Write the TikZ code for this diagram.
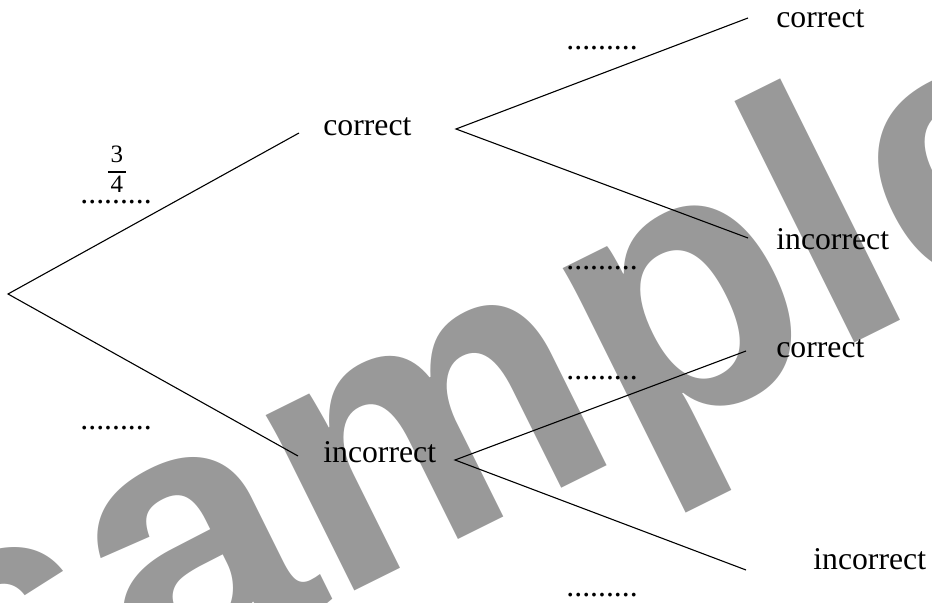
\documentclass[tikz,border=0pt]{standalone}
\usepackage{fontspec}
\setmainfont{Liberation Serif}
\newfontfamily\wmfont{Liberation Sans}
\definecolor{wmgray}{HTML}{999999}

\tikzset{
  lbl/.style={font=\fontsize{15.85}{19}\selectfont, inner sep=0pt, anchor=base west},
  fracbox/.style={font=\fontsize{12.5}{14}\selectfont, inner sep=0pt},
  wm/.style={font=\wmfont\bfseries\fontsize{186}{190}\selectfont, text=wmgray, rotate=26.4, inner sep=0pt, anchor=base west},
  branch/.style={line width=0.55pt}
}

\begin{document}
\begin{tikzpicture}[x=0.5pt,y=-0.5pt]
\useasboundingbox (0,0) rectangle (932,603);
\clip (0,0) rectangle (932,603);
% watermark
\node[wm] (stamp) at (-39,787) {sample};
% branch ends
\coordinate (root) at (8,294);
\coordinate (c) at (299,133);
\coordinate (i) at (298,456);
\coordinate (cfork) at (456,129);
\coordinate (ifork) at (455,460);
\coordinate (cc) at (748,18);
\coordinate (ci) at (748,238);
\coordinate (ic) at (746,351);
\coordinate (ii) at (746,570);
\draw[branch] (c) -- (root) -- (i);
\draw[branch] (cc) -- (cfork) -- (ci);
\draw[branch] (ic) -- (ifork) -- (ii);
% outcomes
\node[lbl] (cLbl) at (323,136) {correct};
\node[lbl] (iLbl) at (323,463) {incorrect};
\node[lbl] (ccLbl) at (776,28) {correct};
\node[lbl] (ciLbl) at (776,250) {incorrect};
\node[lbl] (icLbl) at (776,358) {correct};
\node[lbl] (iiLbl) at (813,570) {incorrect};
% probabilities
\node[fracbox] (pc) at (117,172) {\setlength{\arrayrulewidth}{1pt}\begin{tabular}{@{\hspace{1.5pt}}c@{\hspace{1.5pt}}}3\\\hline 4\end{tabular}};
\node[lbl] (pcDots) at (80,204) {.........};
\node[lbl] (piDots) at (80,430) {.........};
\node[lbl] (pccDots) at (566,50) {.........};
\node[lbl] (pciDots) at (566,270) {.........};
\node[lbl] (picDots) at (566,380) {.........};
\node[lbl] (piiDots) at (566,597) {.........};
\end{tikzpicture}
\end{document}
